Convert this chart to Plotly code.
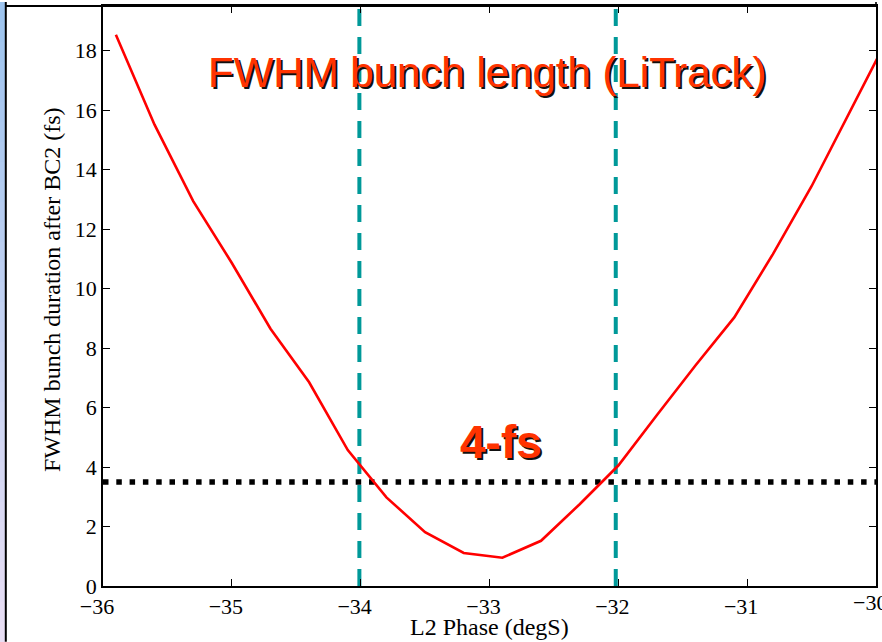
import plotly.graph_objects as go

# LiTrack scan: FWHM bunch duration after BC2 versus L2 phase
l2_phase = [-35.9, -35.6, -35.3, -35.0, -34.7, -34.4, -34.1, -33.8, -33.5, -33.2,
            -32.9, -32.6, -32.3, -32.0, -31.7, -31.4, -31.1, -30.8, -30.5, -30.2, -29.9]
fwhm_fs = [18.53, 15.51, 12.94, 10.86, 8.65, 6.85, 4.57, 2.98, 1.81, 1.11,
           0.95, 1.52, 2.75, 4.05, 5.75, 7.42, 9.03, 11.16, 13.44, 15.94, 18.5]

# phase window markers and duration threshold
phase_window = [-34.01, -32.02]
threshold_fs = 3.5

x_range = [-36, -30]
y_range = [0, 19.5]
x_ticks = [-36, -35, -34, -33, -32, -31, -30]
y_ticks = [0, 2, 4, 6, 8, 10, 12, 14, 16, 18]

W, H = 882, 642
ML, MR, MT, MB = 103, 6, 4, 56

fig = go.Figure()

# horizontal threshold (square dots)
fig.add_trace(go.Scatter(
    x=x_range, y=[threshold_fs, threshold_fs], mode="lines",
    line=dict(color="black", width=5.5, dash="5.5px,7.8px"),
    hoverinfo="skip", showlegend=False))

# vertical phase window lines
for xp in phase_window:
    fig.add_trace(go.Scatter(
        x=[xp, xp], y=y_range, mode="lines",
        line=dict(color="#009999", width=4, dash="17px,11px"),
        hoverinfo="skip", showlegend=False))

# bunch length curve
fig.add_trace(go.Scatter(
    x=l2_phase, y=fwhm_fs, mode="lines",
    line=dict(color="#ff0000", width=2.6),
    showlegend=False))

SERIF = "Liberation Serif"
SANS = "Liberation Sans"

axis_common = dict(
    showline=True, linecolor="black", linewidth=1.6, mirror="ticks",
    ticks="inside", ticklen=7, tickwidth=1, tickcolor="black",
    showgrid=False, zeroline=False,
    tickfont=dict(family=SERIF, size=22, color="black"),
)

# last x label sits past the page edge; it is added as an annotation below
fig.update_xaxes(range=x_range, tickvals=x_ticks[:-1], ticktext=None,
                 ticklabelshift=-6, **axis_common)
fig.update_yaxes(range=y_range, tickvals=y_ticks, **axis_common)


def px_x(p):
    return (p - ML) / (W - ML - MR)


def px_y(p):
    return (H - MB - p) / (H - MT - MB)


annotations = []


def shadow_text(text, cx, cy, size, bold=False):
    label = f"<b>{text}</b>" if bold else text
    for col, dx, dy in (("#111111", 2, -2), ("#ff3300", 0, 0)):
        annotations.append(dict(
            text=label, x=px_x(cx), y=px_y(cy), xref="paper", yref="paper",
            xanchor="center", yanchor="middle", showarrow=False,
            xshift=dx, yshift=dy,
            font=dict(family=SANS, size=size, color=col)))


shadow_text("FWHM bunch length (LiTrack)", 487, 71, 42)
shadow_text("4-fs", 500.5, 442, 46, bold=True)

# x tick label at the right end of the axis (partly off the page)
annotations.append(dict(
    text="\u2212" + str(abs(x_ticks[-1])), x=x_ticks[-1], xref="x",
    y=px_y(603), yref="paper", xanchor="center", yanchor="middle",
    xshift=-6, showarrow=False,
    font=dict(family=SERIF, size=22, color="black")))

# axis titles
annotations.append(dict(
    text="L2 Phase (degS)", x=px_x(489.5), y=px_y(627), xref="paper", yref="paper",
    xanchor="center", yanchor="middle", showarrow=False,
    font=dict(family=SERIF, size=24, color="black")))
annotations.append(dict(
    text="FWHM bunch duration after BC2 (fs)", x=px_x(52), y=px_y(289),
    xref="paper", yref="paper", xanchor="center", yanchor="middle",
    textangle=-90, showarrow=False,
    font=dict(family=SERIF, size=24, color="black")))

# slide frame: gradient strip on the left edge, border lines
shapes = []
n_strip = 32
top_rgb = (158, 196, 238)
bot_rgb = (232, 222, 244)
for i in range(n_strip):
    t = i / (n_strip - 1)
    r = round(top_rgb[0] + (bot_rgb[0] - top_rgb[0]) * t)
    g = round(top_rgb[1] + (bot_rgb[1] - top_rgb[1]) * t)
    b = round(top_rgb[2] + (bot_rgb[2] - top_rgb[2]) * t)
    y0 = H * i / n_strip
    y1 = H * (i + 1) / n_strip + 1
    shapes.append(dict(type="rect", xref="paper", yref="paper",
                       x0=px_x(0), x1=px_x(5), y0=px_y(y1), y1=px_y(y0),
                       fillcolor=f"rgb({r},{g},{b})", line=dict(width=0), layer="below"))
shapes.append(dict(type="line", xref="paper", yref="paper",
                   x0=px_x(5.8), x1=px_x(5.8), y0=px_y(H), y1=px_y(0),
                   line=dict(color="black", width=2)))
shapes.append(dict(type="line", xref="paper", yref="paper",
                   x0=px_x(5), x1=px_x(876), y0=px_y(4), y1=px_y(4),
                   line=dict(color="black", width=2)))
shapes.append(dict(type="line", xref="paper", yref="paper",
                   x0=px_x(876), x1=px_x(876), y0=px_y(4), y1=px_y(0),
                   line=dict(color="black", width=1.6)))

fig.update_layout(
    width=W, height=H,
    margin=dict(l=ML, r=MR, t=MT, b=MB),
    paper_bgcolor="white", plot_bgcolor="white",
    font=dict(family=SERIF, size=22, color="black"),
    annotations=annotations, shapes=shapes,
)

fig.write_html("out.html")
